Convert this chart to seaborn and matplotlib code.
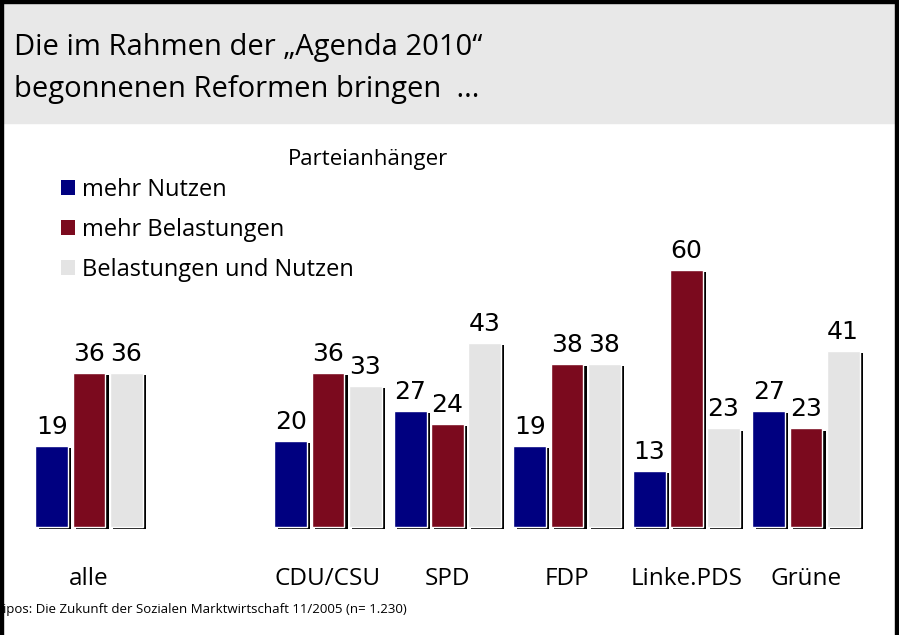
import numpy as np
import pandas as pd
import matplotlib
matplotlib.use("Agg")
import matplotlib.pyplot as plt
import matplotlib.patheffects as pe
from matplotlib.patches import Rectangle, Patch
import seaborn as sns

# data
categories = ["alle", "CDU/CSU", "SPD", "FDP", "Linke.PDS", "Grüne"]
mehr_nutzen = [19, 20, 27, 19, 13, 27]
mehr_belastungen = [36, 36, 24, 38, 60, 23]
belastungen_und_nutzen = [36, 33, 43, 38, 23, 41]
series_names = ["mehr Nutzen", "mehr Belastungen", "Belastungen und Nutzen"]
colors = ["#000080", "#7b0a1e", "#e4e4e4"]

df = pd.DataFrame({
    "Partei": categories * 3,
    "Antwort": np.repeat(series_names, len(categories)),
    "Wert": mehr_nutzen + mehr_belastungen + belastungen_und_nutzen,
})

sns.set_theme(style="white")
plt.rcParams["font.family"] = ["Open Sans", "DejaVu Sans"]
plt.rcParams["text.color"] = "black"
plt.rcParams["xtick.color"] = "black"

W, H = 899, 635
fig = plt.figure(figsize=(W / 100, H / 100), dpi=100)

# frame and title band
fig.patches.append(Rectangle((3 / W, 1 - 123 / H), 894 / W, 120 / H,
                             transform=fig.transFigure, color="#e8e8e8", zorder=0))
fig.patches.append(Rectangle((0, 1 - 3 / H), 1, 3 / H, transform=fig.transFigure,
                             color="black", zorder=1))
fig.patches.append(Rectangle((0, 0), 3 / W, 1, transform=fig.transFigure,
                             color="black", zorder=1))
fig.patches.append(Rectangle((895 / W, 0), 3 / W, 1, transform=fig.transFigure,
                             color="black", zorder=1))

fig.text(14 / W, 1 - 48 / H, "Die im Rahmen der \u201eAgenda 2010\u201c",
         fontsize=21, fontweight="medium", va="center", ha="left")
fig.text(14 / W, 1 - 89 / H, "begonnenen Reformen bringen  ...",
         fontsize=21, fontweight="medium", va="center", ha="left")

ax = fig.add_axes([29.25 / W, 108 / H, 836.5 / W, 300 / H])
order = ["alle", " ", "CDU/CSU", "SPD", "FDP", "Linke.PDS", "Grüne"]
sns.barplot(data=df, x="Partei", y="Wert", hue="Antwort", order=order,
            hue_order=series_names, palette=colors, width=0.93, gap=0.11,
            saturation=1, legend=False, ax=ax)

for p in ax.patches:
    p.set_clip_on(False)
    p.set_path_effects([pe.SimplePatchShadow(offset=(2.2, -1.5), shadow_rgbFace="black",
                                             alpha=1), pe.Normal()])

for c in ax.containers:
    ax.bar_label(c, fmt="%.0f", padding=5, fontsize=18, family="DejaVu Sans")

ax.set_ylim(0, 70)
ax.set_xlim(-0.5, 6.5)
sns.despine(ax=ax, left=True, bottom=True)
ax.set_yticks([])
ax.set_xlabel("")
ax.set_ylabel("")
ax.tick_params(axis="x", length=0, pad=29, labelsize=17.5)
ax.patch.set_alpha(0)

fig.text(368 / W, 1 - 160 / H, "Parteianhänger", fontsize=16, ha="center", va="center")

handles = [Patch(facecolor=col, edgecolor="none") for col in colors]
fig.legend(handles, series_names, loc="upper left",
           bbox_to_anchor=(61 / W, 1 - 178 / H), frameon=False, fontsize=17,
           handlelength=0.6, handleheight=0.6, handletextpad=0.3,
           labelspacing=0.68, borderpad=0, borderaxespad=0)

fig.text(3 / W, 1 - 610 / H,
         "ipos: Die Zukunft der Sozialen Marktwirtschaft 11/2005 (n= 1.230)",
         fontsize=9.5, ha="left", va="center")

fig.savefig("out.png", dpi=100)
